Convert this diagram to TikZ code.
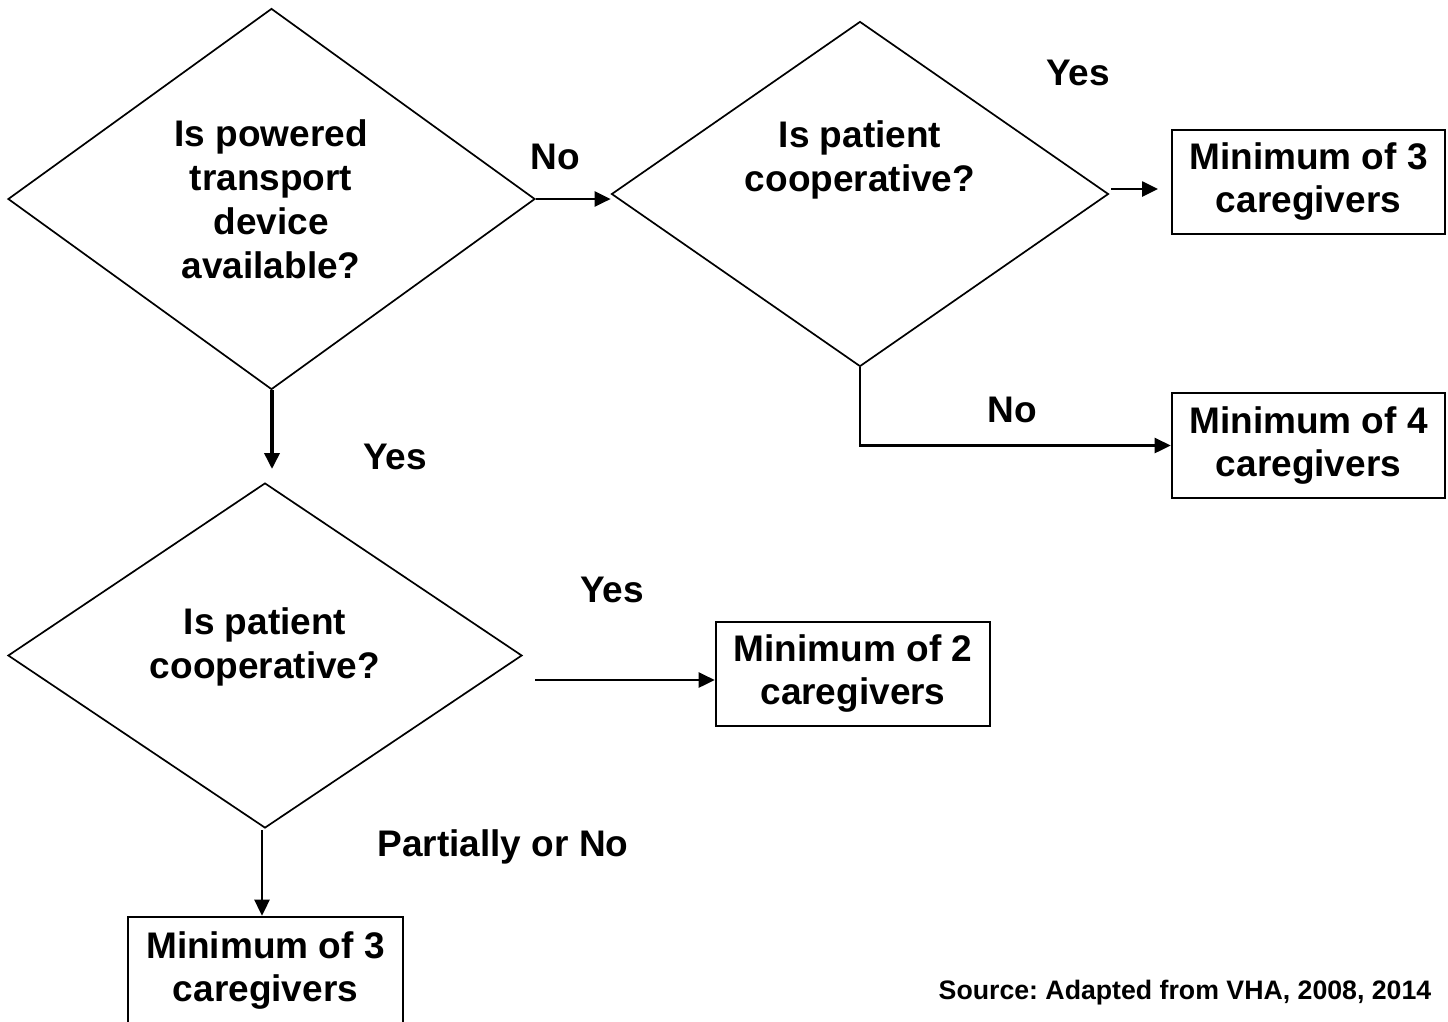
\documentclass[tikz,border=0pt]{standalone}
\usepackage{fontspec}
\setmainfont{Liberation Sans}
\usetikzlibrary{shapes.geometric,arrows.meta,calc}
\frenchspacing
\tikzset{
  dia/.style={shape=diamond,draw,line width=1.7pt,inner sep=0pt},
  box/.style={draw,line width=2.6pt,inner sep=0pt,align=center,font=\bfseries\fontsize{37}{43}\selectfont},
  txt/.style={align=center,inner sep=0pt,font=\bfseries\fontsize{37}{44}\selectfont},
  lbl/.style={inner sep=0pt,font=\bfseries\fontsize{37}{44}\selectfont},
  arr/.style={line width=2.6pt,-{Triangle[length=16pt,width=15pt]}},
}
\begin{document}
\begin{tikzpicture}[x=1pt,y=-1pt]
\useasboundingbox (0,0) rectangle (1448,1021);
% diamonds
\node[dia,minimum width=527pt,minimum height=381pt] (D1) at (271.5,199) {};
\node[dia,minimum width=497pt,minimum height=345pt] (D2) at (860,194) {};
\node[dia,minimum width=514pt,minimum height=345pt] (D3) at (265,655.5) {};
% diamond texts
\node[txt] (T1) at (271,199) {Is powered\\transport\\device\\available?};
\node[txt] (T2) at (860,159.5) {Is patient\\cooperative?};
\node[txt] (T3) at (265,646.5) {Is patient\\cooperative?};
% boxes
\node[box,minimum width=273pt,minimum height=104pt] (A) at (1308.5,182) {Minimum of 3\\caregivers};
\node[box,minimum width=273pt,minimum height=105pt] (B) at (1308.5,445.5) {Minimum of 4\\caregivers};
\node[box,minimum width=274pt,minimum height=104pt] (C) at (853,674) {Minimum of 2\\caregivers};
\node[box,minimum width=275pt,minimum height=106pt] (D) at (265.5,970) {Minimum of 3\\caregivers};
% connectors
\draw[arr] (D1.east) -- (D1.east -| D2.west);
\coordinate (a0) at (1111,189);
\coordinate (a1) at (1158,189);
\draw[arr] (a0) -- (a1);
\draw[arr] (D2.south) |- (B.west);
\coordinate (d1s) at (272,390);
\coordinate (d3t) at (272,469);
\draw[arr,line width=3.6pt] (d1s) -- (d3t);
\coordinate (c3) at (535,680);
\draw[arr] (c3) -- (c3 -| C.west);
\coordinate (d3s) at (262,830);
\draw[arr] (d3s) -- (d3s |- D.north);
% labels
\node[lbl] (L1) at (555,157) {No};
\node[lbl] (L2) at (1078,73) {Yes};
\node[lbl] (L3) at (1012,410) {No};
\node[lbl] (L4) at (395,457) {Yes};
\node[lbl] (L5) at (612,590) {Yes};
\node[lbl] (L6) at (503,847) {Partially or No};
\node[inner sep=0pt,font=\bfseries\fontsize{26.7}{32}\selectfont] (S) at (1185,993) {Source: Adapted from VHA, 2008, 2014};
\end{tikzpicture}
\end{document}
